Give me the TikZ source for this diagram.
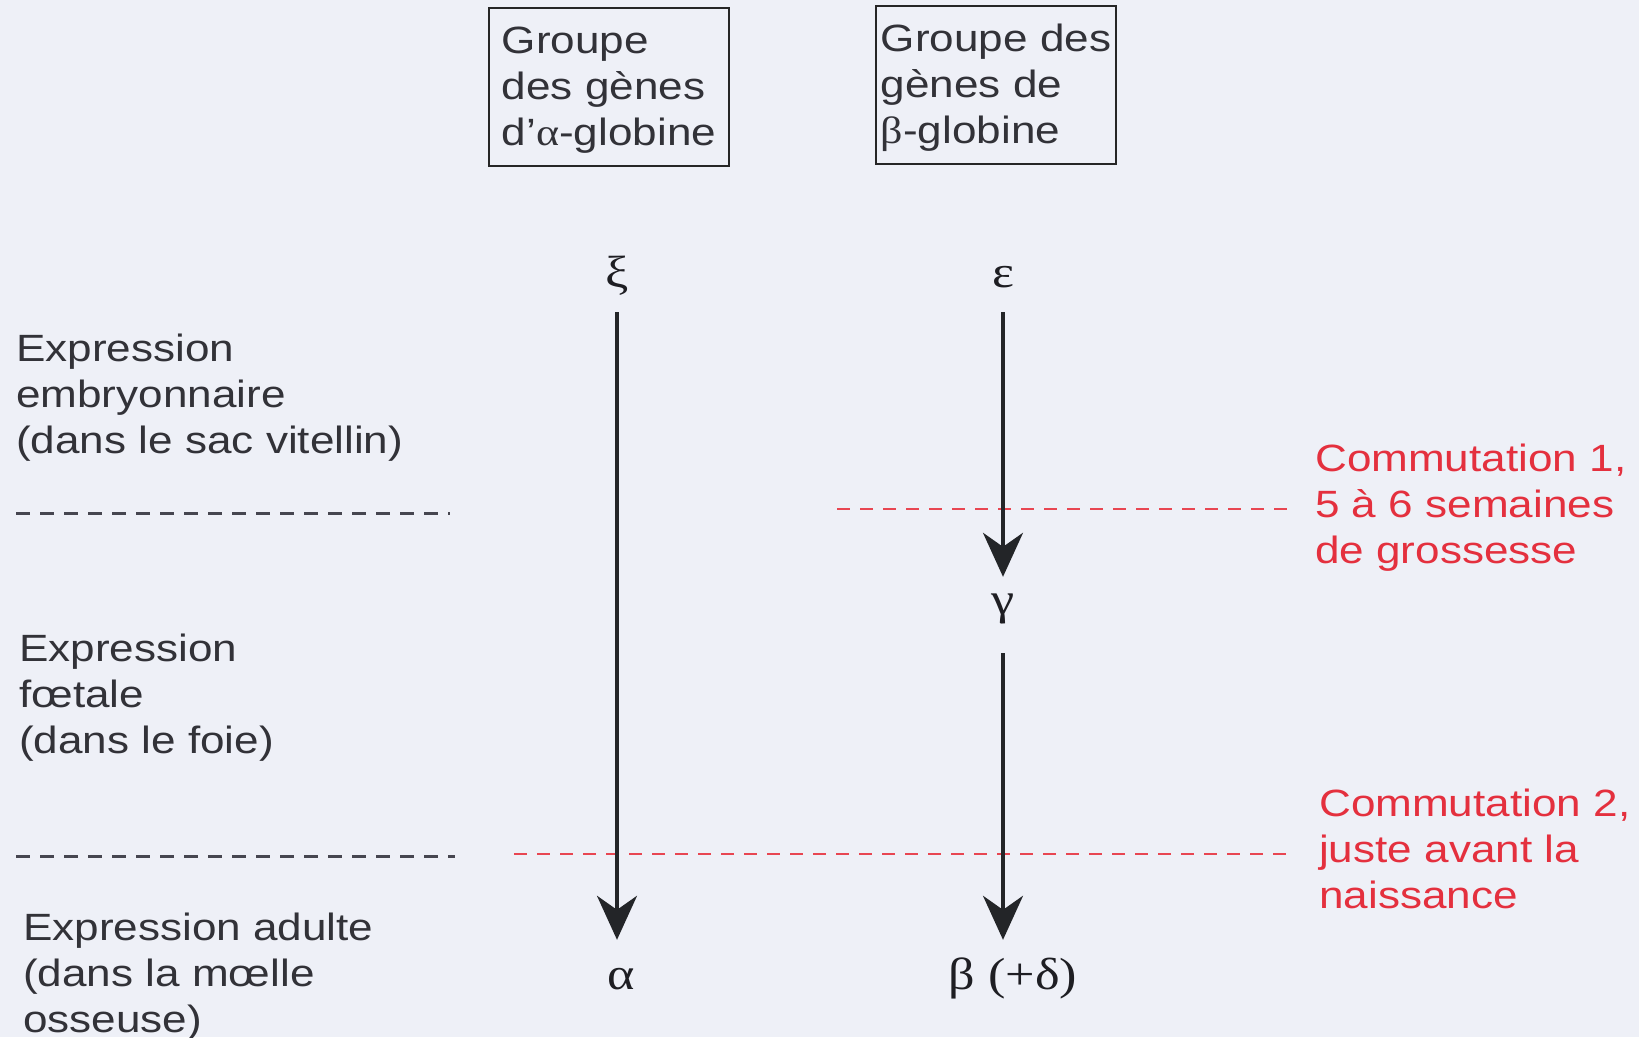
\documentclass[tikz,border=0pt]{standalone}
\usepackage{fontspec}
\setmainfont{Liberation Sans}[FakeStretch=1.16]
\newfontfamily\grk{Liberation Serif}[FakeStretch=1.16]
\usetikzlibrary{arrows.meta}

\definecolor{bg}{RGB}{238,240,247}
\definecolor{txtgray}{RGB}{50,50,56}
\definecolor{redtxt}{RGB}{228,48,62}
\definecolor{sepgray}{RGB}{70,70,80}
\definecolor{sepred}{RGB}{232,70,82}
\definecolor{genetxt}{RGB}{30,30,35}
\definecolor{arrowcol}{RGB}{35,37,40}

\begin{document}
\begin{tikzpicture}[x=1pt,y=-1pt,
  lbl/.style={font=\fontsize{38pt}{46pt}\selectfont, text=txtgray, align=left,
              inner sep=0pt, anchor=base west},
  redlbl/.style={lbl, text=redtxt},
  grp/.style={draw=black!85, line width=1.8pt, font=\fontsize{38pt}{46pt}\selectfont,
              text=txtgray, align=left, minimum width=240pt, minimum height=158pt,
              inner xsep=4pt, inner ysep=4pt},
  gene/.style={font=\grk\fontsize{45pt}{54pt}\selectfont, text=genetxt, inner sep=0pt,
               text height=33pt, text depth=11pt, anchor=base},
  flow/.style={line width=3.2pt, draw=arrowcol,
               -{Stealth[length=44pt,width=40pt,inset=14pt]}},
  sepline/.style={dash pattern=on 14pt off 10pt, line width=3pt, draw=sepgray},
  switchline/.style={dash pattern=on 13pt off 10pt, line width=2.8pt, draw=sepred}]

% canvas
\fill[bg] (0,0) rectangle (1639,1037);
\useasboundingbox (0,0) rectangle (1639,1037);

% gene cluster headers
\node[grp] (ga) at (609,87) {\rule{0pt}{33pt}Groupe\\des gènes\\d’{\grk α}-globine};
\node[grp] (gb) at (996,85) {\rule{0pt}{33pt}Groupe des\\gènes de\\{\grk β}-globine};

% developmental stages (anchored on the last line's baseline)
\node[lbl] (emb) at (16,453) {Expression\\embryonnaire\\(dans le sac vitellin)};
\node[lbl] (foe) at (19,753) {Expression\\fœtale\\(dans le foie)};
\node[lbl] (adu) at (23,1032) {Expression adulte\\(dans la mœlle\\osseuse)};

% switching events
\node[redlbl] (sw1) at (1315,563) {Commutation 1,\\5 à 6 semaines\\de grossesse};
\node[redlbl] (sw2) at (1319,908) {Commutation 2,\\juste avant la\\naissance};

% stage separators
\coordinate (g1a) at (16,513);  \coordinate (g1b) at (450,513);
\coordinate (g2a) at (16,856);  \coordinate (g2b) at (455,856);
\coordinate (r1a) at (837,509); \coordinate (r1b) at (1296,509);
\coordinate (r2a) at (514,854); \coordinate (r2b) at (1296,854);
\draw[sepline] (g1a) -- (g1b);
\draw[sepline] (g2a) -- (g2b);
\draw[switchline] (r1a) -- (r1b);
\draw[switchline] (r2a) -- (r2b);

% globin genes
\node[gene] (xi)  at (617,287)  {ξ};
\node[gene] (eps) at (1003,287) {ε};
\node[gene] (gam) at (1003,614) {γ};
\node[gene] (alp) at (621,989)  {α};
\node[gene] (bet) at (1013,989) {β (+δ)};

% expression switches
\draw[flow, shorten <=14pt, shorten >=16pt] (xi.south) -- (xi.south |- alp.north);
\draw[flow, shorten <=14pt, shorten >=4pt] (eps.south) -- (gam.north);
\draw[flow, shorten <=28pt, shorten >=16pt] (gam.south) -- (gam.south |- bet.north);
\end{tikzpicture}
\end{document}
